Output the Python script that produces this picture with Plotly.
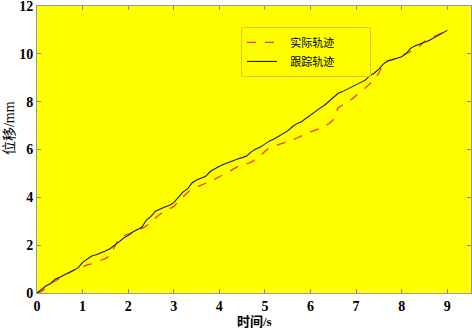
import plotly.graph_objects as go

t = [0.0, 0.1, 0.2, 0.3, 0.4, 0.5, 0.6, 0.7, 0.8, 0.9,
     1.0, 1.1, 1.2, 1.3, 1.4, 1.5, 1.6, 1.7, 1.8, 1.9,
     2.0, 2.1, 2.2, 2.3, 2.4, 2.5, 2.6, 2.7, 2.8, 2.9,
     3.0, 3.1, 3.2, 3.3, 3.4, 3.5, 3.6, 3.7, 3.8, 3.9,
     4.0, 4.1, 4.2, 4.3, 4.4, 4.5, 4.6, 4.7, 4.8, 4.9,
     5.0, 5.1, 5.2, 5.3, 5.4, 5.5, 5.6, 5.7, 5.8, 5.9,
     6.0, 6.1, 6.2, 6.3, 6.4, 6.5, 6.6, 6.7, 6.8, 6.9,
     7.0, 7.1, 7.2, 7.3, 7.4, 7.5, 7.6, 7.7, 7.8, 7.9,
     8.0, 8.1, 8.2, 8.3, 8.4, 8.5, 8.6, 8.7, 8.8, 8.9, 9.0]

actual = [0.00, 0.06, 0.22, 0.40, 0.50, 0.62, 0.72, 0.84, 0.94, 1.00,
          1.10, 1.18, 1.22, 1.30, 1.36, 1.44, 1.56, 1.92, 2.30, 2.40,
          2.46, 2.52, 2.60, 2.70, 2.80, 2.98, 3.16, 3.30, 3.40, 3.50,
          3.62, 3.82, 4.02, 4.20, 4.34, 4.42, 4.50, 4.58, 4.66, 4.76,
          4.86, 4.95, 5.05, 5.18, 5.28, 5.34, 5.40, 5.47, 5.60, 5.76,
          5.94, 6.08, 6.14, 6.20, 6.28, 6.35, 6.40, 6.48, 6.58, 6.66,
          6.74, 6.80, 6.87, 6.95, 7.08, 7.24, 7.74, 7.86, 7.94, 8.10,
          8.24, 8.40, 8.56, 8.74, 8.94, 9.20, 9.62, 9.72, 9.76, 9.84,
          9.92, 10.00, 10.08, 10.18, 10.34, 10.52, 10.62, 10.72, 10.82, 10.90, 10.98]

tracking = [0.00, 0.15, 0.30, 0.40, 0.58, 0.66, 0.76, 0.86, 0.95, 1.05,
            1.28, 1.40, 1.55, 1.60, 1.67, 1.76, 1.85, 1.98, 2.14, 2.30,
            2.40, 2.55, 2.65, 2.75, 3.05, 3.20, 3.42, 3.52, 3.60, 3.66,
            3.78, 4.00, 4.22, 4.35, 4.60, 4.72, 4.80, 4.88, 5.08, 5.20,
            5.30, 5.38, 5.46, 5.52, 5.60, 5.66, 5.73, 5.90, 6.02, 6.10,
            6.22, 6.36, 6.44, 6.56, 6.66, 6.78, 6.95, 7.08, 7.16, 7.30,
            7.46, 7.60, 7.72, 7.84, 8.00, 8.18, 8.34, 8.42, 8.52, 8.60,
            8.70, 8.80, 8.90, 9.08, 9.20, 9.36, 9.58, 9.70, 9.76, 9.82,
            9.88, 10.02, 10.24, 10.34, 10.40, 10.48, 10.56, 10.66, 10.76, 10.86, 10.98]

x_ticks = [0, 1, 2, 3, 4, 5, 6, 7, 8, 9]
y_ticks = [0, 2, 4, 6, 8, 10, 12]

series_names = ["\u00a0\u00a0\u00a0实际轨迹" + "\u00a0" * 11, "\u00a0\u00a0\u00a0跟踪轨迹" + "\u00a0" * 11]
x_title = "时间/s"
y_title = "位移/mm"

font_fam = "Liberation Serif, Noto Sans CJK SC, serif"

fig = go.Figure()
fig.add_trace(go.Scatter(x=t, y=actual, mode="lines", name=series_names[0],
                         line=dict(color="#F03A1E", width=1.3, dash="dash")))
fig.add_trace(go.Scatter(x=t, y=tracking, mode="lines", name=series_names[1],
                         line=dict(color="#1A1A1A", width=1.1)))

axis_common = dict(showgrid=False, zeroline=False, showline=True, linecolor="#999999",
                   linewidth=1, mirror="allticks", ticks="inside", ticklen=4,
                   tickcolor="#888888", automargin=False, ticklabeloverflow="allow",
                   tickfont=dict(family=font_fam, size=14, color="black", weight="bold"))

fig.update_layout(
    width=472, height=330,
    margin=dict(l=37, r=1, t=6, b=37),
    paper_bgcolor="white", plot_bgcolor="#FFFF00",
    font=dict(family=font_fam, color="black"),
    xaxis=dict(range=[0, 9.52], tickvals=x_ticks, **axis_common),
    yaxis=dict(range=[0, 12], tickvals=y_ticks, **axis_common),
    legend=dict(x=0.47, y=0.927, xanchor="left", yanchor="top",
                bgcolor="rgba(0,0,0,0)", bordercolor="#E8C040", borderwidth=1,
                font=dict(size=11, family=font_fam), tracegroupgap=0,
                itemwidth=30),
    showlegend=True,
    annotations=[
        dict(text="<b>" + x_title + "</b>", xref="paper", yref="paper", x=0.502, y=-0.101,
             xanchor="center", yanchor="middle", showarrow=False,
             font=dict(size=13, family=font_fam)),
        dict(text=y_title, xref="paper", yref="paper", x=-0.062, y=0.575,
             xanchor="center", yanchor="middle", showarrow=False, textangle=-90,
             font=dict(size=14, family=font_fam)),
    ],
)

fig.write_html("out.html", config={"displayModeBar": False},
               post_script="document.body.style.margin='0';")
